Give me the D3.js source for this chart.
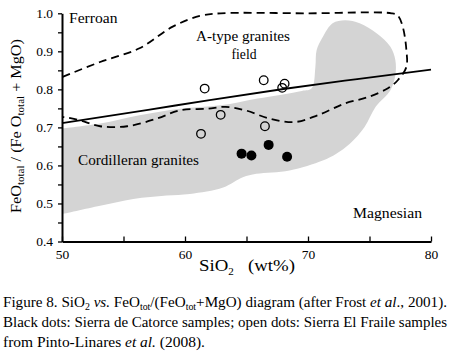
<!DOCTYPE html>
<html>
<head>
<meta charset="utf-8">
<script src="https://cdn.jsdelivr.net/npm/d3@7"></script>
<style>
  body { margin: 0; background: #fff; }
</style>
</head>
<body>
<div id="chart"></div>
<script>
// Sierra El Fraile (open) and Sierra de Catorce (black) samples
const openSiO2 = [61.6, 66.4, 68.1, 67.9, 62.9, 66.5, 61.3];
const openFe = [0.802, 0.824, 0.815, 0.804, 0.733, 0.703, 0.683];
const blackSiO2 = [64.6, 65.4, 66.8, 68.3];
const blackFe = [0.631, 0.626, 0.654, 0.623];

// Ferroan / magnesian boundary
const lineSiO2 = [50, 57, 62, 68, 74, 80];
const lineFe = [0.711, 0.746, 0.772, 0.801, 0.827, 0.852];

// A-type granites field outline (open at the y axis)
const aSiO2 = [50.05, 53.1, 56.3, 59.0, 61.2, 62.9, 70, 76.8, 77.3, 77.7, 78.0, 78.0, 77.3, 76.5,
  74.9, 73.0, 70.8, 68.9, 66.8, 64.9, 63.3, 61.8, 59.6, 57.7, 55.3, 53.1, 51.5, 50.2, 50];
const aFe = [0.833, 0.872, 0.908, 0.965, 0.993, 1.0, 1.0, 1.0, 0.994, 0.965, 0.903, 0.859, 0.824, 0.803,
  0.78, 0.763, 0.732, 0.714, 0.724, 0.745, 0.754, 0.749, 0.745, 0.723, 0.703, 0.703, 0.718, 0.727, 0.727];

// Cordilleran granites field outline
const cSiO2 = [50, 53.1, 56.3, 59.6, 62.9, 65.9, 69.5, 70.3, 70.6, 70.7, 71.2, 72.0, 73.0, 74.2, 75.6, 76.7,
  77.1, 77.1, 76.7, 75.5, 74.6, 73.4, 72.3, 71.2, 68.5, 65.8, 64.7, 63.1, 60.4, 58.5, 55.8, 53.1, 50];
const cFe = [0.697, 0.710, 0.732, 0.749, 0.758, 0.776, 0.796, 0.803, 0.859, 0.903, 0.938, 0.974, 0.982, 0.974, 0.947, 0.912,
  0.877, 0.837, 0.798, 0.754, 0.701, 0.657, 0.631, 0.613, 0.587, 0.578, 0.569, 0.542, 0.525, 0.521, 0.512, 0.494, 0.472];

const xTicks = [50, 55, 60, 65, 70, 75, 80];
const yTicks = [0.4, 0.45, 0.5, 0.55, 0.6, 0.65, 0.7, 0.75, 0.8, 0.85, 0.9, 0.95, 1.0];

const width = 450;
const height = 351;

const svg = d3.select("#chart").append("svg")
  .attr("width", width)
  .attr("height", height);

const x = d3.scaleLinear().domain([50, 80]).range([62, 431]);
const y = d3.scaleLinear().domain([0.4, 1.0]).range([241.5, 13.3]);

const zip = (a, b) => a.map((v, i) => [v, b[i]]);
const smooth = d3.line().x(d => x(d[0])).y(d => y(d[1])).curve(d3.curveCatmullRom.alpha(0.5));

// gray cordilleran field
svg.append("path")
  .datum(zip(cSiO2, cFe))
  .attr("fill", "#d4d4d4")
  .attr("d", smooth);

// dashed A-type field
svg.append("path")
  .datum(zip(aSiO2, aFe))
  .attr("fill", "none")
  .attr("stroke", "#000")
  .attr("stroke-width", 1.8)
  .attr("stroke-dasharray", "8,5")
  .attr("d", smooth);

// boundary line
svg.append("path")
  .datum(zip(lineSiO2, lineFe))
  .attr("fill", "none")
  .attr("stroke", "#000")
  .attr("stroke-width", 1.8)
  .attr("d", d3.line().x(d => x(d[0])).y(d => y(d[1])).curve(d3.curveMonotoneX));

// axes
const xaxis = d3.axisBottom(x)
  .tickValues(xTicks)
  .tickSize(-5)
  .tickSizeOuter(0)
  .tickPadding(8)
  .tickFormat(d => d % 10 === 0 ? d : "");
const yaxis = d3.axisLeft(y)
  .tickValues(yTicks)
  .tickSize(4)
  .tickSizeOuter(0)
  .tickPadding(5)
  .tickFormat(d => Math.round(d * 100) % 10 === 0 ? d3.format(".1f")(d) : "");

svg.append("g")
  .attr("transform", "translate(0," + y(0.4) + ")")
  .call(xaxis)
  .attr("font-size", 13.5)
  .call(g => g.select(".domain").attr("stroke-width", 2))
  .call(g => g.selectAll(".tick line").attr("stroke-width", 1.3));

svg.append("g")
  .attr("transform", "translate(" + x(50) + ",0)")
  .call(yaxis)
  .attr("font-size", 13.5)
  .call(g => g.select(".domain").attr("stroke-width", 2))
  .call(g => g.selectAll(".tick line").attr("stroke-width", 1.3));

// sample points
svg.selectAll(".open").data(zip(openSiO2, openFe)).join("circle")
  .attr("class", "open")
  .attr("cx", d => x(d[0]))
  .attr("cy", d => y(d[1]))
  .attr("r", 4.3)
  .attr("fill", "none")
  .attr("stroke", "#000")
  .attr("stroke-width", 1.3);

svg.selectAll(".black").data(zip(blackSiO2, blackFe)).join("circle")
  .attr("class", "black")
  .attr("cx", d => x(d[0]))
  .attr("cy", d => y(d[1]))
  .attr("r", 5)
  .attr("fill", "#000");

// field labels
const label = (tx, ty, s, len, anchor) => svg.append("text")
  .attr("x", tx).attr("y", ty)
  .attr("text-anchor", anchor || "start")
  .attr("font-size", 14.5)
  .attr("textLength", len)
  .attr("lengthAdjust", "spacingAndGlyphs")
  .text(s);

label(69, 23, "Ferroan", 48.5);
label(196, 40.5, "A-type granites", 94);
label(244, 58.5, "field", 25, "middle");
label(78, 165, "Cordilleran granites", 121);
label(353, 218, "Magnesian", 69);

// axis titles
const xt = svg.append("text")
  .attr("x", 199).attr("y", 271)
  .attr("font-size", 17)
  .attr("textLength", 96)
  .attr("lengthAdjust", "spacingAndGlyphs");
xt.append("tspan").text("SiO");
xt.append("tspan").attr("dy", 4).attr("font-size", 10).text("2");
xt.append("tspan").attr("dy", -4).attr("xml:space", "preserve").text("   (wt%)");

const yt = svg.append("text")
  .attr("transform", "translate(21,126) rotate(-90)")
  .attr("text-anchor", "middle")
  .attr("font-size", 14)
  .attr("textLength", 174)
  .attr("lengthAdjust", "spacingAndGlyphs");
yt.append("tspan").text("FeO");
yt.append("tspan").attr("dy", 3).attr("font-size", 9.5).text("total");
yt.append("tspan").attr("dy", -3).text(" / (Fe O");
yt.append("tspan").attr("dy", 3).attr("font-size", 9.5).text("total");
yt.append("tspan").attr("dy", -3).text(" + MgO)");

// caption
const cap = svg.append("g").attr("font-size", 14.5);
const l1 = cap.append("text").attr("x", 3).attr("y", 307)
  .attr("textLength", 444).attr("lengthAdjust", "spacingAndGlyphs");
l1.append("tspan").text("Figure 8. SiO");
l1.append("tspan").attr("dy", 3).attr("font-size", 9.5).text("2");
l1.append("tspan").attr("dy", -3).text(" ");
l1.append("tspan").attr("font-style", "italic").text("vs.");
l1.append("tspan").text(" FeO");
l1.append("tspan").attr("dy", 3).attr("font-size", 9.5).text("tot");
l1.append("tspan").attr("dy", -3).text("/(FeO");
l1.append("tspan").attr("dy", 3).attr("font-size", 9.5).text("tot");
l1.append("tspan").attr("dy", -3).text("+MgO) diagram (after Frost ");
l1.append("tspan").attr("font-style", "italic").text("et al");
l1.append("tspan").text("., 2001).");

cap.append("text").attr("x", 3).attr("y", 327)
  .attr("textLength", 444).attr("lengthAdjust", "spacingAndGlyphs")
  .text("Black dots: Sierra de Catorce samples; open dots: Sierra El Fraile samples");

const l3 = cap.append("text").attr("x", 3).attr("y", 347)
  .attr("textLength", 202).attr("lengthAdjust", "spacingAndGlyphs");
l3.append("tspan").text("from Pinto-Linares ");
l3.append("tspan").attr("font-style", "italic").text("et al.");
l3.append("tspan").text(" (2008).");

// serif face for every text
svg.selectAll("text").style("font-family", "'Liberation Serif'");
</script>
</body>
</html>
